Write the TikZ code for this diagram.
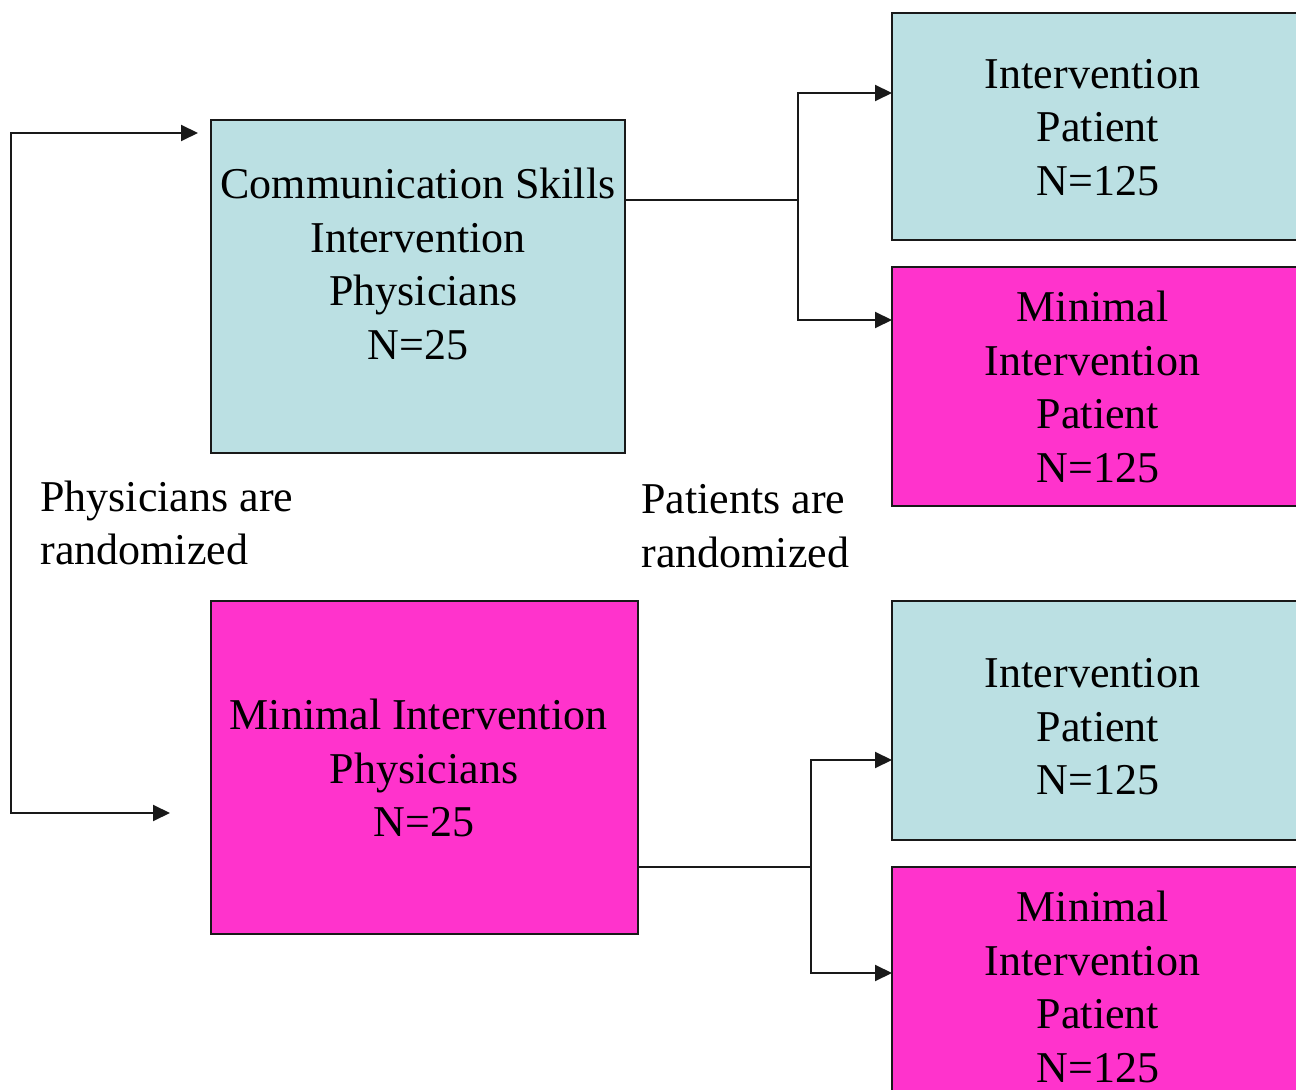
\documentclass[tikz,border=0pt]{standalone}
\usepackage{fontspec}
\setmainfont{Liberation Serif}
\usetikzlibrary{arrows.meta}
\definecolor{lblue}{HTML}{BBE0E3}
\definecolor{mpink}{HTML}{FF33CC}
\newcommand{\gapsp}{\rule{0.25em}{0pt}}
\begin{document}
\begin{tikzpicture}[x=0.5pt,y=-0.5pt,
  box/.style={draw=black!90, line width=1pt, anchor=north west, inner sep=0pt, outer sep=0pt},
  bluebox/.style={box, fill=lblue},
  pinkbox/.style={box, fill=mpink},
  txt/.style={align=center, inner sep=0pt, font=\fontsize{22}{26.75}\selectfont},
  lbl/.style={align=left, anchor=west, inner sep=0pt, font=\fontsize{22}{26.75}\selectfont},
  conn/.style={line width=1pt, draw=black!90},
  arr/.style={conn, {Triangle[length=8.5pt,width=8pt]}-{Triangle[length=8.5pt,width=8pt]}}]
\clip (0,0) rectangle (1296,1090);
\fill[white] (0,0) rectangle (1296,1090);
% boxes
\node[bluebox, minimum width=207pt, minimum height=166.5pt] (A) at (211,120) {};
\node[pinkbox, minimum width=213.5pt, minimum height=166.5pt] (B) at (211,601) {};
\node[bluebox, minimum width=214pt, minimum height=113.5pt] (R1) at (892,13) {};
\node[pinkbox, minimum width=214pt, minimum height=119.5pt] (R2) at (892,267) {};
\node[bluebox, minimum width=214pt, minimum height=119.5pt] (R3) at (892,601) {};
\node[pinkbox, minimum width=214pt, minimum height=150pt] (R4) at (892,867) {};
% texts
\node[txt] (tA) at (418,264) {Communication Skills\\Intervention\\\gapsp Physicians\\N=25};
\node[txt] (tB) at (424,768) {Minimal Intervention\gapsp\\Physicians\\N=25};
\node[txt] (tR1) at (1098,127.5) {Intervention\gapsp\\Patient\\N=125};
\node[txt] (tR2) at (1098,387) {Minimal\gapsp\\Intervention\gapsp\\Patient\\N=125};
\node[txt] (tR3) at (1098,727) {Intervention\gapsp\\Patient\\N=125};
\node[txt] (tR4) at (1098,987) {Minimal\gapsp\\Intervention\gapsp\\Patient\\N=125};
\node[lbl] (lp) at (40,523) {Physicians are\\randomized};
\node[lbl] (lq) at (641,526) {Patients are\\randomized};
% connector points
\coordinate (c1) at (11,133);
\coordinate (c2) at (11,813);
\coordinate (L1) at (198,133);
\coordinate (L2) at (170,813);
\coordinate (j1) at (798,200);
\coordinate (t1) at (892,93);
\coordinate (t2) at (892,320);
\coordinate (j2) at (811,867);
\coordinate (t3) at (892,760);
\coordinate (t4) at (892,973);
% connectors
\draw[arr] (L1) -- (c1) -- (c2) -- (L2);
\draw[conn] (A.east |- j1) -- (j1);
\draw[arr] (t1) -| (j1) |- (t2);
\draw[conn] (B.east |- j2) -- (j2);
\draw[arr] (t3) -| (j2) |- (t4);
\end{tikzpicture}
\end{document}
